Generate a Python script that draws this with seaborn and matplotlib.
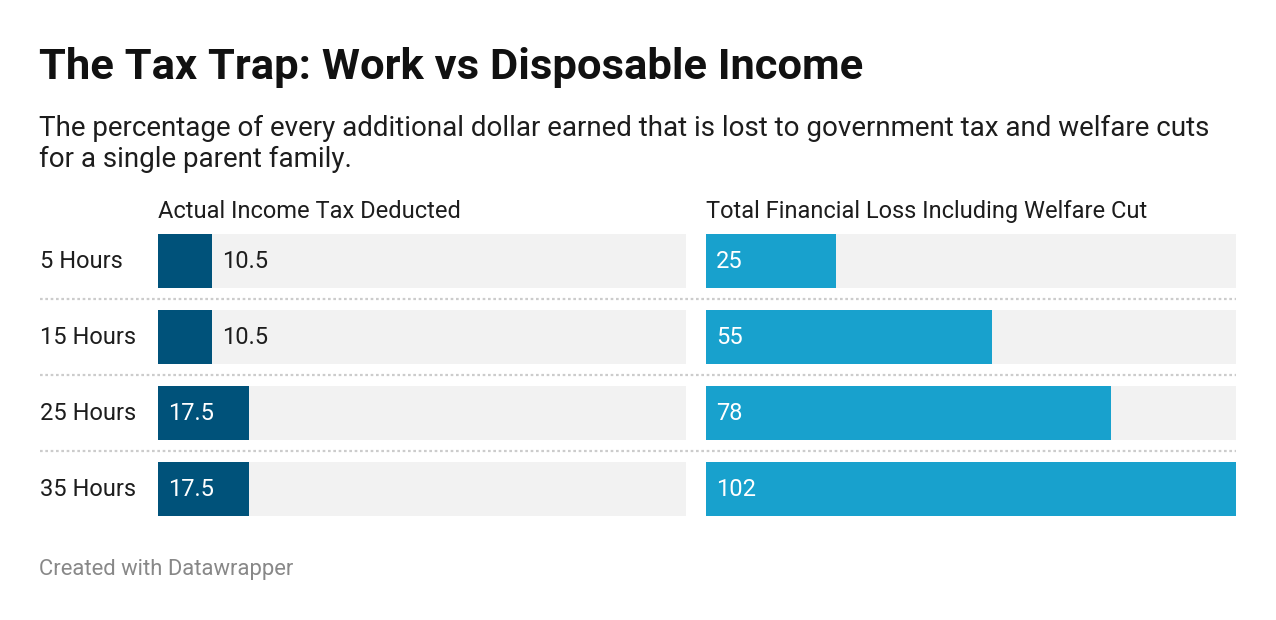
import matplotlib
matplotlib.use("Agg")
import matplotlib.pyplot as plt
import matplotlib.transforms as mtransforms
from matplotlib.lines import Line2D
import seaborn as sns
import pandas as pd

# ---- data ----
categories = ["5 Hours", "15 Hours", "25 Hours", "35 Hours"]
income_tax = [10.5, 10.5, 17.5, 17.5]
total_loss = [25, 55, 78, 102]
col_titles = ["Actual Income Tax Deducted", "Total Financial Loss Including Welfare Cut"]
title = "The Tax Trap: Work vs Disposable Income"
subtitle_lines = ["The percentage of every additional dollar earned that is lost to government tax and welfare cuts",
                  "for a single parent family."]
footer = "Created with Datawrapper"

sns.set_theme(style="white")
plt.rcParams["font.family"] = ["Roboto", "DejaVu Sans"]

W, H = 1276, 620
fig = plt.figure(figsize=(W / 100, H / 100), dpi=100)
fig.patch.set_facecolor("white")

def fx(px):
    return px / W

def fy(py):
    return 1 - py / H

vmax = max(max(income_tax), max(total_loss))
bar_w = 54 / 76
colors = ["#00527a", "#18a1cd"]
series = [income_tax, total_loss]
panels = [(158, 528), (706, 530)]
top, bottom = 234, 516
txt = "#1d1d1d"
fs = 17

axes = []
for i, ((x0, w), vals, col) in enumerate(zip(panels, series, colors)):
    ax = fig.add_axes([fx(x0), fy(bottom), fx(w), (bottom - top) / H])
    df = pd.DataFrame({"cat": categories, "val": vals, "bg": [vmax] * len(vals)})
    sns.barplot(data=df, x="bg", y="cat", orient="h", color="#f2f2f2",
                width=bar_w, ax=ax, saturation=1, linewidth=0)
    sns.barplot(data=df, x="val", y="cat", orient="h", color=col,
                width=bar_w, ax=ax, saturation=1, linewidth=0)
    ax.set_xlim(0, vmax)
    ax.set_ylim(len(categories) - 1 + bar_w / 2, -bar_w / 2)
    ax.axis("off")
    for j, v in enumerate(vals):
        label = f"{v:g}"
        inside = v >= 15
        if inside:
            ax.annotate(label, xy=(0, j), xytext=(7.4, 0), textcoords="offset points",
                        va="center", ha="left", fontsize=fs, color="white")
        else:
            ax.annotate(label, xy=(v, j), xytext=(7.2, 0), textcoords="offset points",
                        va="center", ha="left", fontsize=fs, color=txt)
    fig.text(fx(x0), fy(218), col_titles[i], fontsize=fs, color=txt, va="baseline", ha="left")
    axes.append(ax)

# row labels
tr = mtransforms.blended_transform_factory(fig.transFigure, axes[0].transData)
for j, c in enumerate(categories):
    axes[0].text(fx(40), j, c, transform=tr, va="center", ha="left", fontsize=fs, color=txt)

# dotted separators
for py in [299, 375, 451]:
    fig.add_artist(Line2D([fx(40), fx(1236)], [fy(py), fy(py)], transform=fig.transFigure,
                          color="#cccccc", lw=1.6, linestyle=(0, (1.2, 1.2))))

fig.text(fx(39), fy(79), title, fontsize=31.3, fontweight="bold", color="#111111",
         va="baseline", ha="left")
for k, line in enumerate(subtitle_lines):
    fig.text(fx(39), fy(136 + 31 * k), line, fontsize=20, color=txt, va="baseline", ha="left")
fig.text(fx(39), fy(575), footer, fontsize=15.8, color="#888888", va="baseline", ha="left")

fig.savefig("out.png", dpi=100, facecolor="white")
